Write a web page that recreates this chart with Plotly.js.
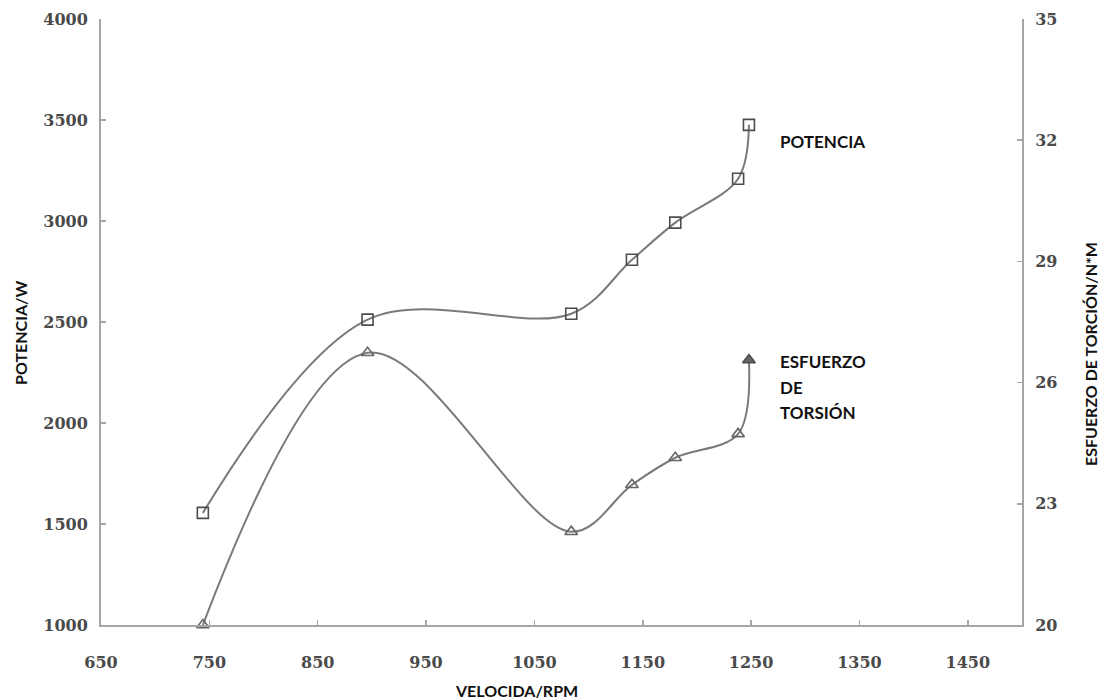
<!DOCTYPE html>
<html>
<head>
<meta charset="utf-8">
<script src="https://cdn.plot.ly/plotly-3.0.1.min.js"></script>
<style>html,body{margin:0;padding:0;background:#fff;}#chart{width:1102px;height:700px;}</style>
</head>
<body>
<div id="chart"></div>
<script>
// Data
const rpm = [744, 896, 1084, 1140, 1180, 1238, 1248];
const potencia = [1555, 2512, 2541, 2808, 2992, 3209, 3476];
const torsion = [20, 26.74, 22.31, 23.47, 24.14, 24.73, 26.56];
const xTicks = [650, 750, 850, 950, 1050, 1150, 1250, 1350, 1450];
const leftTicks = [1000, 1500, 2000, 2500, 3000, 3500, 4000];
const rightTicks = [20, 23, 26, 29, 32, 35];
const torsionSymbols = ['triangle-up-open','triangle-up-open','triangle-up-open','triangle-up-open','triangle-up-open','triangle-up-open','triangle-up'];

const tickFont = {family: 'DejaVu Serif', size: 16, color: '#4a4a4a', weight: 'bold'};
const labelFont = {family: 'Lato', size: 16, color: '#111', weight: 'bold'};
const annFont = {family: 'Lato', size: 17, color: '#111', weight: 'bold'};
const axisColor = '#a6a6a6';

const traces = [
  {
    x: rpm, y: potencia, name: 'POTENCIA', type: 'scatter', mode: 'lines+markers',
    cliponaxis: false,
    line: {shape: 'spline', smoothing: 1.0, color: '#7a7a7a', width: 2},
    marker: {symbol: 'square-open', size: 11, color: '#4d4d4d', line: {width: 1.6, color: '#4d4d4d'}},
    xaxis: 'x', yaxis: 'y'
  },
  {
    x: rpm, y: torsion, name: 'ESFUERZO DE TORSIÓN', type: 'scatter', mode: 'lines+markers',
    cliponaxis: false,
    line: {shape: 'spline', smoothing: 1.0, color: '#7a7a7a', width: 2},
    marker: {symbol: torsionSymbols, size: 11, color: '#666', line: {width: 1.6, color: '#4d4d4d'}},
    xaxis: 'x', yaxis: 'y2'
  }
];

const layout = {
  width: 1102, height: 700,
  margin: {l: 101, r: 80, t: 19, b: 75},
  paper_bgcolor: '#fff', plot_bgcolor: '#fff',
  showlegend: false,
  xaxis: {
    range: [650, 1500], tickvals: xTicks, ticktext: xTicks.map(String),
    showgrid: false, zeroline: false, showline: true, linecolor: axisColor, linewidth: 2,
    ticks: 'inside', ticklen: 5, tickcolor: axisColor, tickwidth: 1.5,
    tickfont: tickFont, ticklabelstandoff: 22
  },
  yaxis: {
    range: [1000, 4000], tickvals: leftTicks, ticktext: leftTicks.map(String),
    showgrid: false, zeroline: false, showline: true, linecolor: axisColor, linewidth: 2,
    ticks: 'inside', ticklen: 5, tickcolor: axisColor, tickwidth: 1.5,
    tickfont: tickFont, ticklabelstandoff: 8
  },
  yaxis2: {
    range: [20, 35], tickvals: rightTicks, ticktext: rightTicks.map(String),
    overlaying: 'y', side: 'right',
    showgrid: false, zeroline: false, showline: true, linecolor: axisColor, linewidth: 2,
    ticks: 'inside', ticklen: 5, tickcolor: axisColor, tickwidth: 1.5,
    tickfont: tickFont, ticklabelstandoff: 8
  },
  annotations: [
    {text: 'POTENCIA', x: 1275, y: 3394, xref: 'x', yref: 'y', xanchor: 'left', yanchor: 'middle', showarrow: false, font: annFont},
    {text: 'ESFUERZO', x: 1275, y: 2305, xref: 'x', yref: 'y', xanchor: 'left', yanchor: 'middle', showarrow: false, font: annFont},
    {text: 'DE', x: 1275, y: 2178, xref: 'x', yref: 'y', xanchor: 'left', yanchor: 'middle', showarrow: false, font: annFont},
    {text: 'TORSIÓN', x: 1275, y: 2054, xref: 'x', yref: 'y', xanchor: 'left', yanchor: 'middle', showarrow: false, font: annFont},
    {text: 'POTENCIA/W', x: 20, y: 333, showarrow: false, textangle: -90, font: labelFont, xanchor: 'center', yanchor: 'middle'},
    {text: 'VELOCIDA/RPM', x: 516, y: 690, showarrow: false, font: labelFont, xanchor: 'center', yanchor: 'middle'},
    {text: 'ESFUERZO DE TORCIÓN/N*M', x: 1090, y: 354, showarrow: false, textangle: -90, font: labelFont, xanchor: 'center', yanchor: 'middle'}
  ]
};

// convert pixel-positioned titles to paper coords
const plotW = 1102 - 101 - 80, plotH = 700 - 19 - 75;
layout.annotations.slice(4).forEach(a => {
  a.xref = 'paper'; a.yref = 'paper';
  a.x = (a.x - 101) / plotW;
  a.y = 1 - (a.y - 19) / plotH;
});

Plotly.newPlot('chart', traces, layout, {displayModeBar: false, staticPlot: true});
</script>
</body>
</html>
